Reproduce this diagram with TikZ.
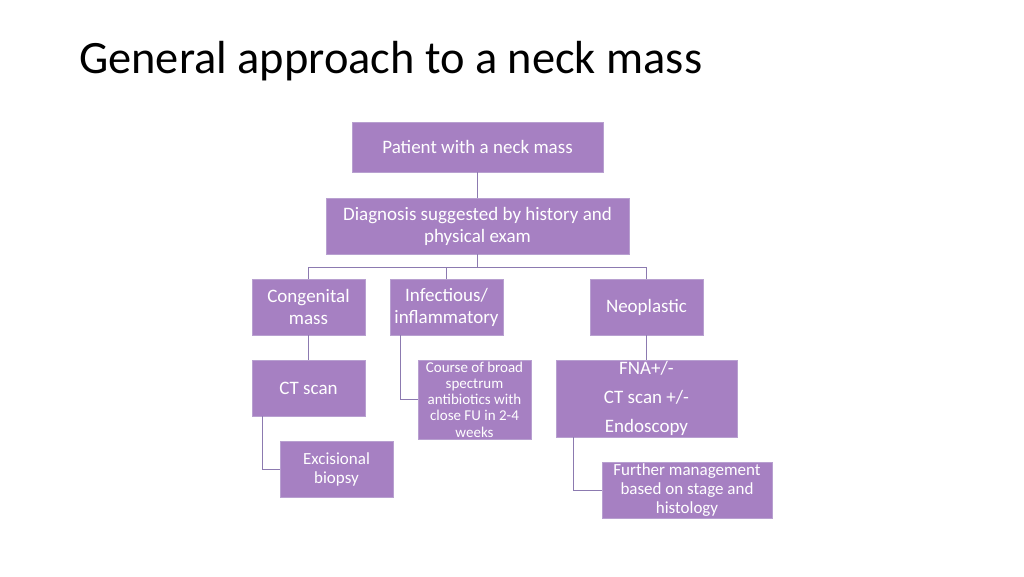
\documentclass[tikz,border=0pt]{standalone}
\usepackage{fontspec}
\setmainfont{Carlito}
\usepackage{tikz}

\definecolor{boxfill}{RGB}{166,128,194}
\definecolor{boxedge}{RGB}{184,160,208}
\definecolor{linkline}{RGB}{140,122,176}

\tikzset{
  stepbox/.style={fill=boxfill, draw=boxedge, line width=0.6pt, text=white,
    align=center, inner sep=0pt},
  link/.style={draw=linkline, line width=0.9pt}
}

\begin{document}
\begin{tikzpicture}[x=1pt, y=-1pt]
      \useasboundingbox (0,0) rectangle (1024,576);
      \node[anchor=base west, inner sep=0pt, font=\fontsize{46.4}{52}\selectfont] (title) at (79,73)
        {General approach to a neck mass};

      \node[stepbox, minimum width=251pt, minimum height=50pt, font=\fontsize{19}{22}\selectfont]
        (patient) at (477.5,147) {Patient with a neck mass};
      \node[stepbox, minimum width=303pt, minimum height=56pt, font=\fontsize{19}{22}\selectfont]
        (diag) at (477.5,226) {Diagnosis suggested by history and\\physical exam};

      \node[stepbox, minimum width=113pt, minimum height=56pt, font=\fontsize{19}{22}\selectfont]
        (cong) at (308.5,307) {Congenital\\mass};
      \node[stepbox, minimum width=113pt, minimum height=56pt, font=\fontsize{19}{22}\selectfont]
        (infl) at (446.5,307) {Infectious/\\inflammatory};
      \node[stepbox, minimum width=113pt, minimum height=56pt, font=\fontsize{19}{22}\selectfont]
        (neo) at (646.5,307) {Neoplastic};

      \node[stepbox, minimum width=113pt, minimum height=56pt, font=\fontsize{19}{22}\selectfont]
        (ct) at (308.5,388) {CT scan};
      \node[stepbox, minimum width=113pt, minimum height=79pt, font=\fontsize{15}{16.3}\selectfont]
        (course) at (474.5,399.5) {Course of broad\\spectrum\\antibiotics with\\close FU in 2-4\\weeks};
      \node[stepbox, minimum width=181pt, minimum height=77pt, font=\fontsize{19}{29}\selectfont]
        (fna) at (646.5,398.5) {FNA+/-\\CT scan +/-\\Endoscopy};

      \node[stepbox, minimum width=113pt, minimum height=56pt, font=\fontsize{17}{19}\selectfont]
        (exc) at (336.5,469) {Excisional\\biopsy};
      \node[stepbox, minimum width=170pt, minimum height=56pt, font=\fontsize{17}{19}\selectfont]
        (further) at (687,490) {Further management\\based on stage and\\histology};

      % tree below the diagnosis
      \coordinate (split) at (477.5,267);
      \draw[link] (patient) -- (diag);
      \draw[link] (diag.south) -- (split);
      \draw[link] (split) -| (cong.north);
      \draw[link] (split) -| (infl.north);
      \draw[link] (split) -| (neo.north);

      \draw[link] (cong) -- (ct);
      \draw[link] (neo) -- (fna);
      \draw[link] ([xshift=11pt]infl.south west) |- (course.west);
      \draw[link] ([xshift=11pt]ct.south west) |- (exc.west);
      \draw[link] ([xshift=18pt]fna.south west) |- (further.west);
    \end{tikzpicture}
\end{document}
